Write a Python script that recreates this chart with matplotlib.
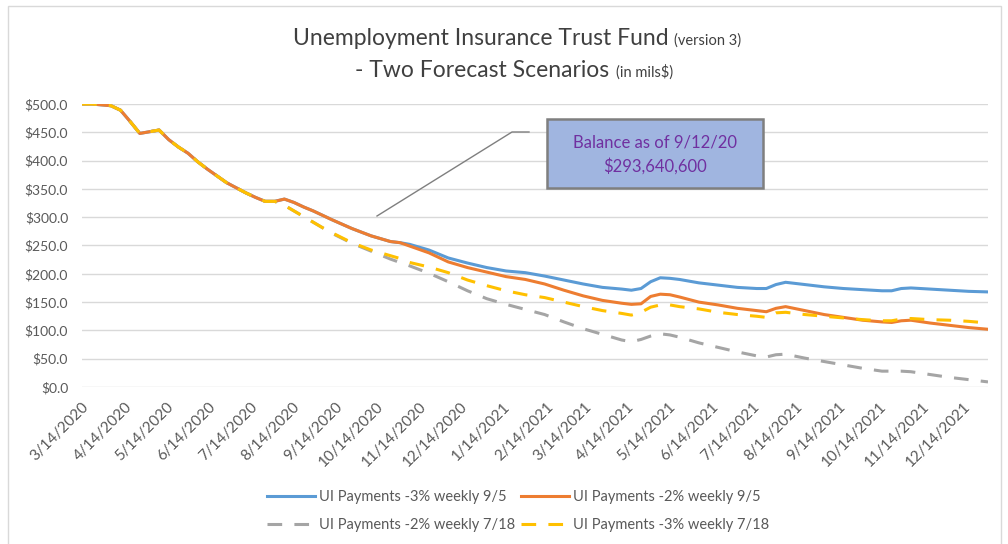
import matplotlib
matplotlib.use('Agg')
import matplotlib.pyplot as plt
from matplotlib.patches import Rectangle
from matplotlib.lines import Line2D
import pandas as pd

W, H = 1008, 544

# weekly balances, millions of dollars
DATES = [
    '2020-03-14', '2020-03-21', '2020-03-28', '2020-04-04', '2020-04-11', '2020-04-18',
    '2020-04-25', '2020-05-02', '2020-05-09', '2020-05-16', '2020-05-23', '2020-05-30',
    '2020-06-06', '2020-06-13', '2020-06-20', '2020-06-27', '2020-07-04', '2020-07-11',
    '2020-07-18', '2020-07-25', '2020-08-01', '2020-08-08', '2020-08-15', '2020-08-22',
    '2020-08-29', '2020-09-05', '2020-09-12', '2020-09-26', '2020-10-10', '2020-10-24',
    '2020-10-31', '2020-11-07', '2020-11-21', '2020-12-05', '2020-12-19', '2021-01-02',
    '2021-01-16', '2021-01-30', '2021-02-13', '2021-02-27', '2021-03-13', '2021-03-27',
    '2021-04-10', '2021-04-17', '2021-04-24', '2021-05-01', '2021-05-08', '2021-05-15',
    '2021-05-22', '2021-06-05', '2021-06-19', '2021-07-03', '2021-07-17', '2021-07-24',
    '2021-07-31', '2021-08-07', '2021-08-21', '2021-09-04', '2021-09-18', '2021-10-02',
    '2021-10-16', '2021-10-23', '2021-10-30', '2021-11-06', '2021-11-20', '2021-12-04',
    '2021-12-18', '2022-01-01',
]

COMMON_START = [500, 500, 498.5, 497, 489, 469, 448, 451, 454, 437, 424, 413, 398, 385,
                373, 361, 352, 343, 335, 328, 328]

pay_3pct_95 = COMMON_START + [
    332, 326, 318, 311, 303, 295,
    280, 267, 257, 255, 252, 242, 228, 219, 211, 205,
    202, 196, 189, 182, 176, 173, 171, 174, 186, 193,
    192, 190, 184, 180, 176, 174, 174, 181, 185, 181,
    177, 174, 172, 170, 170, 174, 175, 173, 171, 169, 168,
]
pay_2pct_95 = COMMON_START + [
    332, 326, 318, 311, 303, 295,
    280, 267, 257, 255, 249, 237, 221, 211, 203, 195,
    190, 182, 171, 161, 153, 148, 146, 147, 160, 164,
    163, 159, 150, 145, 139, 135, 133, 139, 142, 135,
    128, 123, 118, 115, 114, 117, 118, 113, 109, 105, 102,
]
pay_2pct_718 = COMMON_START + [
    321, 311, 301, 291, 281, 271,
    254, 240, 226, 220, 214, 201, 186, 170, 156, 146,
    137, 128, 115, 103, 93, 83, 80, 84, 90, 94,
    92, 88, 78, 70, 62, 55, 53, 57, 58, 51,
    45, 39, 33, 28, 28, 28, 27, 22, 17, 13, 9,
]
pay_3pct_718 = COMMON_START + [
    321, 311, 301, 291, 281, 272,
    255, 242, 232, 227, 220, 212, 202, 189, 179, 170,
    163, 158, 150, 142, 135, 130, 127, 132, 141, 145,
    145, 142, 138, 132, 128, 125, 123, 131, 132, 128,
    125, 122, 119, 117, 117, 120, 121, 119, 118, 116, 113,
]

SERIES_LABELS = ['UI Payments -3% weekly 9/5', 'UI Payments -2% weekly 9/5',
                 'UI Payments -2% weekly 7/18', 'UI Payments -3% weekly 7/18']
Y_TICKS = [0, 50, 100, 150, 200, 250, 300, 350, 400, 450, 500]

TEXT_GREY = '#595959'
FONT = 'Lato'


def px(x, y):
    """pixel position -> figure fraction"""
    return x / W, 1 - y / H


def title_line(fig, renderer, big, small, cx, base_y, big_size, small_size):
    """draws a title line with a smaller trailing part, centred on cx"""
    x0, y0 = px(cx, base_y)
    t1 = fig.text(x0, y0, big, fontsize=big_size, color='#404040', family=FONT,
                  ha='left', va='baseline')
    t2 = fig.text(x0, y0, small, fontsize=small_size, color='#404040', family=FONT,
                  ha='left', va='baseline')
    w1 = t1.get_window_extent(renderer).width
    w2 = t2.get_window_extent(renderer).width
    gap = 6
    start = cx - (w1 + gap + w2) / 2
    t1.set_x(start / W)
    t2.set_x((start + w1 + gap) / W)


dates = pd.to_datetime(DATES)

fig = plt.figure(figsize=(W / 100, H / 100), dpi=100)
ax = fig.add_axes([82 / W, 1 - 387 / H, (988 - 82) / W, (387 - 104) / H])

ax.plot(dates, pay_3pct_95, color='#5b9bd5', lw=2.2, label=SERIES_LABELS[0])
ax.plot(dates, pay_2pct_95, color='#ed7d31', lw=2.2, label=SERIES_LABELS[1])
ax.plot(dates, pay_2pct_718, color='#a5a5a5', lw=2.2, dashes=(4.8, 4),
        dash_capstyle='butt', label=SERIES_LABELS[2])
ax.plot(dates, pay_3pct_718, color='#ffc000', lw=2.2, dashes=(4.8, 4),
        dash_capstyle='butt', label=SERIES_LABELS[3])

ax.set_xlim(dates[0], dates[-1])
ax.set_ylim(0, 500)
ax.set_yticks(Y_TICKS)
ax.set_yticklabels([f'${v:.1f}' for v in Y_TICKS], family=FONT, fontsize=10,
                   color=TEXT_GREY)
ax.grid(axis='y', color='#d9d9d9', lw=1)
ax.set_axisbelow(True)
for s in ax.spines.values():
    s.set_visible(False)
ax.tick_params(length=0)
ax.tick_params(axis='y', pad=10)

tick_dates = pd.date_range('2020-03-14', '2021-12-14', freq=pd.DateOffset(months=1))
ax.set_xticks(tick_dates)
ax.set_xticklabels([f'{d.month}/{d.day}/{d.year}' for d in tick_dates],
                   rotation=45, ha='right', va='top', rotation_mode='anchor',
                   family=FONT, fontsize=11, color=TEXT_GREY)
ax.tick_params(axis='x', pad=9)

# chart frame
fig.patches.append(Rectangle(px(8, 600), 993 / W, 594 / H, transform=fig.transFigure,
                             fill=False, edgecolor='#d9d9d9', lw=1))

renderer = fig.canvas.get_renderer()
title_line(fig, renderer, 'Unemployment Insurance Trust Fund', '(version 3)',
           517, 45, 16.5, 10.5)
title_line(fig, renderer, '- Two Forecast Scenarios', '(in mils$)', 514, 77, 16.5, 10.5)

# callout
fig.add_artist(Line2D([377 / W, 512 / W, 529 / W], [1 - 216 / H, 1 - 132 / H, 1 - 132 / H],
                      color='#7f7f7f', lw=1))
fig.patches.append(Rectangle(px(547, 188), (763 - 547) / W, (188 - 119) / H,
                             transform=fig.transFigure, facecolor='#a0b5e0',
                             edgecolor='#7f7f7f', lw=1.8))
fig.text(*px(655, 142), 'Balance as of 9/12/20', ha='center', va='center',
         family=FONT, fontsize=12, color='#7030a0')
fig.text(*px(655, 166), '$293,640,600', ha='center', va='center',
         family=FONT, fontsize=12, color='#7030a0')

handles, labels = ax.get_legend_handles_labels()
order = [0, 2, 1, 3]
fig.legend([handles[i] for i in order], [labels[i] for i in order], ncol=2,
           loc='center', bbox_to_anchor=px(518, 511), frameon=False,
           prop={'family': FONT, 'size': 10.5}, labelcolor=TEXT_GREY,
           handlelength=3.3, handletextpad=0.25, columnspacing=0.4, labelspacing=0.95)

fig.savefig('out.png', dpi=100)
